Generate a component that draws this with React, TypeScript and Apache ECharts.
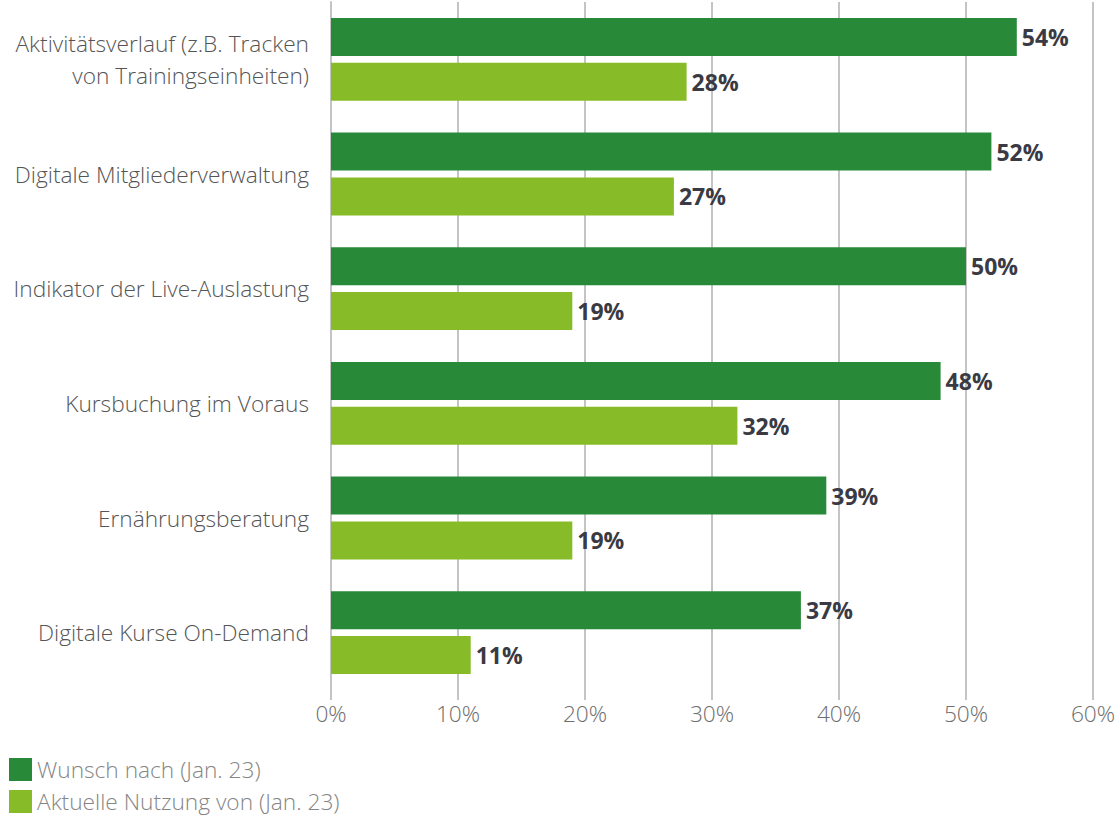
import React, { useEffect, useRef } from "react";
import * as echarts from "echarts";

const categories = [
  "Aktivitätsverlauf (z.B. Tracken\nvon Trainingseinheiten)",
  "Digitale Mitgliederverwaltung",
  "Indikator der Live-Auslastung",
  "Kursbuchung im Voraus",
  "Ernährungsberatung",
  "Digitale Kurse On-Demand",
];
const wunsch = [54, 52, 50, 48, 39, 37];
const nutzung = [28, 27, 19, 32, 19, 11];
const seriesNames = ["Wunsch nach (Jan. 23)", "Aktuelle Nutzung von (Jan. 23)"];
const xTicks = { min: 0, max: 60, interval: 10 };

const FONT = "'Open Sans', 'Noto Sans', sans-serif";
const FS = 22.7;

export default function App() {
  const ref = useRef<HTMLDivElement>(null);
  useEffect(() => {
    if (!ref.current) return;
    const chart = echarts.init(ref.current, null, { renderer: "svg" });
    const label = {
      show: true,
      position: "right",
      distance: 5,
      formatter: "{c}%",
      fontFamily: FONT,
      fontSize: 23,
      fontWeight: "bold",
      color: "#3a3a44",
    };
    chart.setOption({
      animation: false,
      textStyle: { fontFamily: FONT },
      legend: {
        orient: "vertical",
        left: 4,
        top: 753,
        height: 70,
        padding: 5,
        itemWidth: 23,
        itemHeight: 23,
        itemGap: 9,
        icon: "rect",
        textStyle: { fontFamily: FONT, fontSize: FS, fontWeight: 300, color: "#858585", padding: [0, 0, 0, 0] },
        data: seriesNames,
      },
      grid: { left: 331, right: 26, top: 2, height: 688, containLabel: false },
      xAxis: {
        type: "value",
        min: xTicks.min,
        max: xTicks.max,
        interval: xTicks.interval,
        axisLine: { show: false },
        axisTick: { show: true, length: 10, lineStyle: { color: "#c4c4c4", width: 2 } },
        splitLine: { show: true, lineStyle: { color: "#c4c4c4", width: 2 } },
        axisLabel: {
          formatter: "{value}%",
          fontFamily: FONT,
          fontSize: FS,
          fontWeight: 300,
          color: "#6e6e6e",
          margin: 12,
        },
      },
      yAxis: {
        type: "category",
        inverse: true,
        data: categories,
        axisLine: { show: true, lineStyle: { color: "#c4c4c4", width: 2 } },
        axisTick: { show: false },
        axisLabel: {
          fontFamily: FONT,
          fontSize: FS,
          fontWeight: 300,
          color: "#555555",
          margin: 22,
          lineHeight: 32,
          align: "right",
        },
      },
      series: [
        {
          name: seriesNames[0],
          type: "bar",
          data: wunsch,
          barWidth: 38,
          barGap: "18%",
          itemStyle: { color: "#288a38" },
          label,
        },
        {
          name: seriesNames[1],
          type: "bar",
          data: nutzung,
          barWidth: 38,
          barGap: "18%",
          itemStyle: { color: "#87bb27" },
          label,
        },
      ],
    });
    return () => chart.dispose();
  }, []);
  return (
    <div
      ref={ref}
      style={{ position: "fixed", left: 0, top: 0, width: 1119, height: 818, background: "#fff" }}
    />
  );
}
